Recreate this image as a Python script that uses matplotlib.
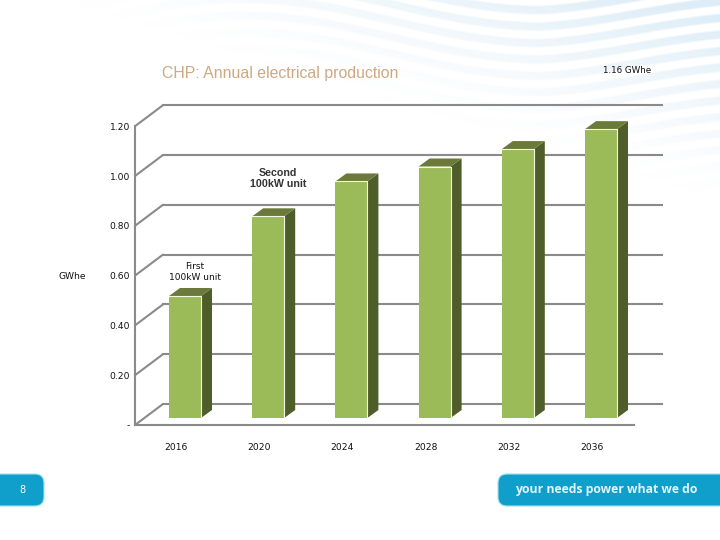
import matplotlib
matplotlib.use('Agg')
import matplotlib.pyplot as plt
import numpy as np
from matplotlib.patches import FancyBboxPatch

years = ['2016', '2020', '2024', '2028', '2032', '2036']
production = [0.49, 0.81, 0.95, 1.01, 1.08, 1.16]
y_ticks = [0.0, 0.2, 0.4, 0.6, 0.8, 1.0, 1.2]
y_labels = ['-', '0.20', '0.40', '0.60', '0.80', '1.00', '1.20']

# pixel scale of the chart
PX_X = 83.2
PX_Y = 249.0
X0 = 185.0
Y0 = 418.0
BAR_W = 32 / PX_X

def dx(p):
    return p / PX_X

def dy(p):
    return p / PX_Y

def draw_background(bg):
    yy, xx = np.mgrid[0:540, 0:720]
    amp = 22 * np.clip((900 - xx) / 360.0, 0.3, 1)
    wave = yy - amp * np.cos(2 * np.pi * (xx - 543) / 600.0)
    bands = np.clip(0.5 + 1.3 * np.sin(wave / 16.5 * 2 * np.pi), 0, 1)
    fade = np.clip((xx - 60 - 3.3 * yy) / 600.0, 0, 1) ** 1.3
    img = np.ones((540, 720, 3))
    tint = np.array([0.87, 0.93, 0.97])
    amt = (bands * fade)[..., None]
    img = img * (1 - amt) + tint * amt
    bg.imshow(img, extent=(0, 720, 540, 0), aspect='auto', interpolation='bilinear')
    for x, w in [(-20, 64), (498, 240)]:
        bg.add_patch(FancyBboxPatch((x + 9, 483), w - 18, 14,
                                    boxstyle='round,pad=9,rounding_size=9',
                                    fc='#0f9fca', ec='#9fe2f2', lw=0.8))
    bg.text(22, 490, '8', color='white', fontsize=7, ha='center', va='center',
            family='DejaVu Sans')
    bg.text(515, 490, 'your needs power what we do', color='#e4f5fa', fontsize=8.8,
            fontweight='bold', ha='left', va='center', family='Open Sans')
    bg.set_xlim(0, 720)
    bg.set_ylim(540, 0)
    bg.axis('off')

def draw_frame(ax):
    wall = (135 - X0) / PX_X
    back = (163 - X0) / PX_X
    right_back = (662 - X0) / PX_X
    right_front = (634 - X0) / PX_X
    front_off = dy(-7)
    back_off = dy(14)
    grey = '#8a8a8a'
    for t, lab in zip(y_ticks, y_labels):
        ax.plot([wall, back], [t + front_off, t + back_off], color=grey, lw=1.5,
                solid_capstyle='round', zorder=1)
        ax.plot([back, right_back], [t + back_off, t + back_off], color=grey, lw=1.5, zorder=1)
        ax.text(wall - dx(5), t + front_off + dy(-1), lab, ha='right', va='center',
                fontsize=6.6, color='#111111')
    ax.plot([wall, wall], [front_off, 1.2 + front_off], color=grey, lw=1.5, zorder=1)
    ax.plot([wall, right_front], [front_off, front_off], color=grey, lw=1.5, zorder=1)

def draw_bars(ax):
    xs = np.arange(len(years))
    ax.bar(xs, production, width=BAR_W, color='#9bbb59', zorder=3)
    ox, oy = dx(11), dy(8)
    for x, v in zip(xs, production):
        l, r = x - BAR_W / 2, x + BAR_W / 2
        ax.fill([r, r + ox, r + ox, r], [0, oy, v + oy, v], color='#4f5d2b', lw=0, zorder=2)
        ax.fill([l, r, r + ox, l + ox], [v, v, v + oy, v + oy], color='#6b7a3a', lw=0, zorder=2)
        # pale highlight along the front face
        ax.plot([l, r, r], [v, v, 0], color='#f4f8e6', lw=0.8, zorder=4)
        ax.text(x - dx(9), dy(-30), years[int(x)], ha='center', va='center', fontsize=6.6,
                color='#111111')

def draw_labels(ax):
    ax.text((278 - X0) / PX_X, (Y0 - 178.5) / PX_Y, 'Second\n100kW unit', ha='center', va='center',
            fontsize=7.7, fontweight='bold', color='#333333', family='Liberation Sans',
            linespacing=1.2)
    ax.text((195 - X0) / PX_X, (Y0 - 272) / PX_Y, 'First\n100kW unit', ha='center', va='center',
            fontsize=6.5, color='#111111', linespacing=1.4)
    ax.text((72 - X0) / PX_X, (Y0 - 277) / PX_Y, 'GWhe', ha='center', va='center', fontsize=6.6,
            color='#111111')
    ax.text((627 - X0) / PX_X, (Y0 - 70.5) / PX_Y, '1.16 GWhe', ha='center', va='center',
            fontsize=6.3, color='#111111')
    ax.text((162 - X0) / PX_X, (Y0 - 74) / PX_Y, 'CHP: Annual electrical production', ha='left',
            va='center', fontsize=11.45, color='#cda982', family='Liberation Sans')

def main():
    fig = plt.figure(figsize=(7.2, 5.4), dpi=100)
    bg = fig.add_axes([0, 0, 1, 1])
    draw_background(bg)
    ax = fig.add_axes([0, 0, 1, 1])
    ax.patch.set_alpha(0)
    draw_frame(ax)
    draw_bars(ax)
    draw_labels(ax)
    ax.set_xlim(-X0 / PX_X, (720 - X0) / PX_X)
    ax.set_ylim((Y0 - 540) / PX_Y, Y0 / PX_Y)
    ax.axis('off')
    fig.savefig('out.png', dpi=100)

if __name__ == '__main__':
    main()
